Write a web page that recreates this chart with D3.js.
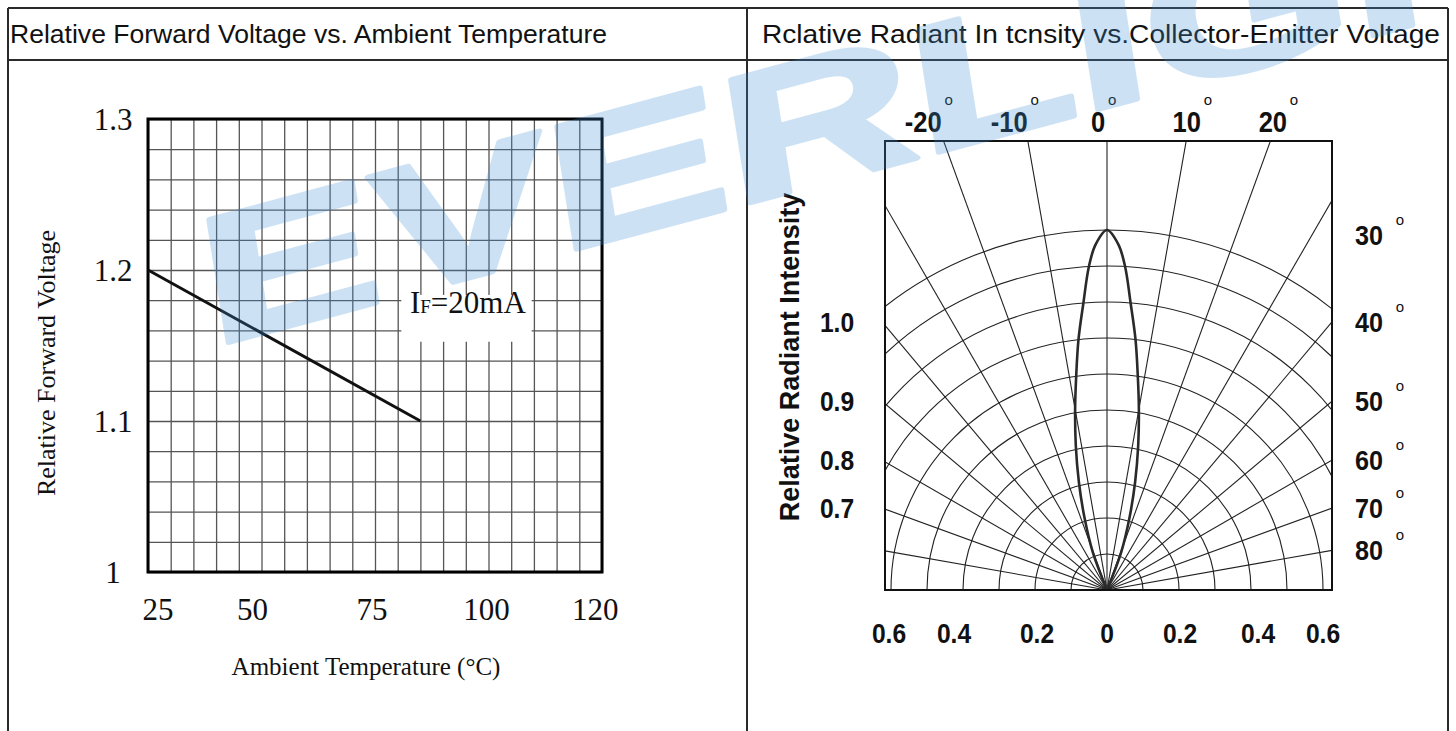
<!DOCTYPE html>
<html>
<head>
<meta charset="utf-8">
<script src="https://cdn.jsdelivr.net/npm/d3@7"></script>
<style>
  body { margin: 0; background: #fff; }
  svg { display: block; }
</style>
</head>
<body>
<svg id="chart" width="1456" height="731"></svg>
<script>
// ---- left chart data: relative forward voltage vs ambient temperature
var tempTicks = [25, 50, 75, 100, 120];
var voltTicks = [1, 1.1, 1.2, 1.3];
var voltTickText = ["1", "1.1", "1.2", "1.3"];
var curveTemp = [25, 85];
var curveVolt = [1.2, 1.1];

// ---- right chart data: radiation pattern (angle in deg, relative intensity)
var lobeAngle = [-24, -20.7, -17.3, -14.6, -12.2, -10, -8.2, -6.5, -4.7, -3.2, -1.9, 0,
                 1.9, 3.2, 4.7, 6.5, 8.2, 10, 12.2, 14.6, 17.3, 20.7, 24];
var lobeIntensity = [0, 0.11, 0.21, 0.31, 0.41, 0.51, 0.60, 0.70, 0.80, 0.90, 0.96, 1.0,
                     0.96, 0.90, 0.80, 0.70, 0.60, 0.51, 0.41, 0.31, 0.21, 0.11, 0];
var ringValues = [0.1, 0.2, 0.3, 0.4, 0.5, 0.6, 0.7, 0.8, 0.9, 1.0];
var spokeAngles = [-90, -80, -70, -60, -50, -40, -30, -20, -10, 0, 10, 20, 30, 40, 50, 60, 70, 80, 90];
var topAngles = [-20, -10, 0, 10, 20];
var sideAngles = [30, 40, 50, 60, 70, 80];
var intensityText = ["1.0", "0.9", "0.8", "0.7"];
var intensityRow = [40, 50, 60, 70];
var bottomValues = [-0.6, -0.4, -0.2, 0, 0.2, 0.4, 0.6];

// label nudges (px) where the printed labels sit off their gridline
var tempLabelShift = [10, -9, -3, -2, 16];
var sideLabelShift = [35, 0, 0, 0, 0, 0];
var bottomLabelShift = [-2, -9, 2, 0, 1, 7, 0];

var svg = d3.select("#chart");
var serif = "'Liberation Serif', 'Times New Roman', serif";
var sans = "'Liberation Sans', Arial, sans-serif";

// ---- table frame
var tbl = svg.append("g").attr("stroke", "#2a2a2a").attr("stroke-width", 2);
[[8, 8, 1448, 8], [8, 60, 1448, 60], [8, 8, 8, 731], [1448, 8, 1448, 731], [747, 8, 747, 731]]
  .forEach(function(l) {
    tbl.append("line").attr("x1", l[0]).attr("y1", l[1]).attr("x2", l[2]).attr("y2", l[3]);
  });

svg.append("text").attr("x", 10).attr("y", 43)
  .attr("textLength", 597).attr("lengthAdjust", "spacingAndGlyphs")
  .style("font-family", sans).style("font-size", "25px").attr("fill", "#111")
  .text("Relative Forward Voltage vs. Ambient Temperature");
svg.append("text").attr("x", 762).attr("y", 43)
  .attr("textLength", 678).attr("lengthAdjust", "spacingAndGlyphs")
  .style("font-family", sans).style("font-size", "25px").attr("fill", "#111")
  .text("Rclative Radiant In tcnsity vs.Collector-Emitter Voltage");

// ---- left chart
var x = d3.scaleLinear().domain([25, 125]).range([148, 602]);
var y = d3.scaleLinear().domain([1, 1.3]).range([572, 119]);
var left = svg.append("g");

left.append("g")
  .attr("transform", "translate(0,572)")
  .call(d3.axisBottom(x).tickValues(d3.range(25, 126, 5)).tickSize(-(572 - 119)).tickFormat(""))
  .call(function(g) { g.select(".domain").remove(); })
  .call(function(g) { g.selectAll("line").attr("stroke", "#555").attr("stroke-width", 1.3); });

left.append("g")
  .attr("transform", "translate(148,0)")
  .call(d3.axisLeft(y).tickValues(d3.range(1, 1.301, 0.02)).tickSize(-(602 - 148)).tickFormat(""))
  .call(function(g) { g.select(".domain").remove(); })
  .call(function(g) { g.selectAll("line").attr("stroke", "#555").attr("stroke-width", 1.3); });

// IF label box
left.append("rect")
  .attr("x", x(80.8)).attr("y", y(1.1835))
  .attr("width", x(109.5) - x(80.8)).attr("height", y(1.1525) - y(1.1835))
  .attr("fill", "#fff");
var ifText = left.append("text")
  .attr("x", x(82.7)).attr("y", y(1.1718))
  .style("font-family", serif).style("font-size", "31px").attr("fill", "#111");
ifText.append("tspan").text("I");
ifText.append("tspan").style("font-size", "19px").text("F");
ifText.append("tspan").text("=20mA");

left.append("rect")
  .attr("x", 148).attr("y", 119).attr("width", 602 - 148).attr("height", 572 - 119)
  .attr("fill", "none").attr("stroke", "#000").attr("stroke-width", 3);

var line = d3.line().x(function(d) { return x(d[0]); }).y(function(d) { return y(d[1]); });
left.append("path")
  .datum(curveTemp.map(function(t, i) { return [t, curveVolt[i]]; }))
  .attr("d", line)
  .attr("fill", "none").attr("stroke", "#111").attr("stroke-width", 3);

left.selectAll(".ylab").data(voltTicks).enter().append("text")
  .attr("x", 113).attr("y", function(d) { return y(d) + 11; })
  .attr("text-anchor", "middle")
  .style("font-family", serif).style("font-size", "31px").attr("fill", "#111")
  .text(function(d, i) { return voltTickText[i]; });

left.selectAll(".xlab").data(tempTicks).enter().append("text")
  .attr("x", function(d, i) { return x(d) + tempLabelShift[i]; }).attr("y", 620)
  .attr("text-anchor", "middle")
  .style("font-family", serif).style("font-size", "31px").attr("fill", "#111")
  .text(function(d) { return d; });

left.append("text")
  .attr("transform", "translate(55,363) rotate(-90)")
  .attr("text-anchor", "middle")
  .style("font-family", serif).style("font-size", "26px").attr("fill", "#111")
  .text("Relative Forward Voltage");

left.append("text")
  .attr("x", 366).attr("y", 675)
  .attr("text-anchor", "middle")
  .style("font-family", serif).style("font-size", "25px").attr("fill", "#111")
  .text("Ambient Temperature (°C)");

// ---- right chart (polar)
var ox = 1107, oy = 590;
var bx0 = 885, bx1 = 1332, by0 = 141, by1 = 590;
var r = d3.scaleLinear().domain([0, 1]).range([0, 360]);
var rad = function(a) { return a * Math.PI / 180; };

svg.append("defs").append("clipPath").attr("id", "polarClip")
  .append("rect").attr("x", bx0).attr("y", by0).attr("width", bx1 - bx0).attr("height", by1 - by0);

var polar = svg.append("g").attr("clip-path", "url(#polarClip)");
var inner = polar.append("g").attr("transform", "translate(" + ox + "," + oy + ")");

var arc = d3.arc()
  .innerRadius(function(d) { return r(d); })
  .outerRadius(function(d) { return r(d); })
  .startAngle(-Math.PI / 2).endAngle(Math.PI / 2);

inner.selectAll(".ring").data(ringValues).enter().append("path")
  .attr("d", arc)
  .attr("fill", "none").attr("stroke", "#222").attr("stroke-width", 1.1);

inner.selectAll(".spoke").data(spokeAngles).enter().append("line")
  .attr("x1", 0).attr("y1", 0)
  .attr("x2", function(d) { return 800 * Math.sin(rad(d)); })
  .attr("y2", function(d) { return -800 * Math.cos(rad(d)); })
  .attr("stroke", "#222").attr("stroke-width", 1.1);

var lobe = d3.lineRadial()
  .angle(function(d, i) { return rad(lobeAngle[i]); })
  .radius(function(d, i) { return r(lobeIntensity[i]); })
  .curve(d3.curveCatmullRom);

inner.append("path")
  .attr("d", lobe(lobeAngle))
  .attr("fill", "none").attr("stroke", "#2a2a2a").attr("stroke-width", 2.6);

svg.append("rect")
  .attr("x", bx0).attr("y", by0).attr("width", bx1 - bx0).attr("height", by1 - by0)
  .attr("fill", "none").attr("stroke", "#111").attr("stroke-width", 2);

function boldLabel(g, px, py, txt, size, anchor, sx) {
  return g.append("text")
    .attr("transform", "translate(" + px + "," + py + ") scale(" + (sx || 0.85) + ",1)")
    .attr("text-anchor", anchor || "middle")
    .style("font-family", sans).style("font-weight", "bold").style("font-size", size + "px")
    .attr("fill", "#111")
    .text(txt);
}
function degree(g, px, py) {
  g.append("text").attr("x", px).attr("y", py)
    .attr("text-anchor", "middle")
    .style("font-family", sans).style("font-size", "15px").attr("fill", "#111")
    .text("o");
}

var labels = svg.append("g");

// top angle labels along the spokes, just above the frame
var rTop = r(1.42);
topAngles.forEach(function(a) {
  var sx = ox - 9 + rTop * Math.sin(rad(a));
  var t = boldLabel(labels, sx, 132, String(a), 29, "middle", 0.88);
  var w = t.node().getComputedTextLength() * 0.88;
  degree(labels, sx + w / 2 + 7, 105);
});

// side angle labels at the spoke's crossing of the right edge
function sideY(a) { return oy - (bx1 - ox) / Math.tan(rad(a)); }
sideAngles.forEach(function(a, i) {
  var sy = sideY(a) + sideLabelShift[i];
  boldLabel(labels, 1355, sy + 10, String(a), 28, "start", 0.9);
  degree(labels, 1400, sy - 10);
});

intensityText.forEach(function(t, i) {
  boldLabel(labels, 837, sideY(intensityRow[i]) + 10, t, 28, "middle", 0.88);
});

bottomValues.forEach(function(v, i) {
  boldLabel(labels, ox + r(v) + bottomLabelShift[i], 643, v === 0 ? "0" : Math.abs(v).toFixed(1), 28, "middle", 0.88);
});

labels.append("text")
  .attr("transform", "translate(799,357) rotate(-90)")
  .attr("text-anchor", "middle")
  .style("font-family", sans).style("font-weight", "bold").style("font-size", "27px")
  .attr("fill", "#111")
  .text("Relative Radiant Intensity");

// ---- watermark
svg.append("text")
  .attr("transform", "translate(212,347) rotate(-15) skewX(-6) scale(1.5,1)")
  .style("font-family", sans).style("font-weight", "bold")
  .style("font-size", "180px")
  .attr("fill", "#3f93d8").attr("stroke", "#3f93d8").attr("stroke-width", 5)
  .attr("stroke-linejoin", "round")
  .attr("opacity", 0.26)
  .text("EVERLIGHT");
</script>
</body>
</html>
